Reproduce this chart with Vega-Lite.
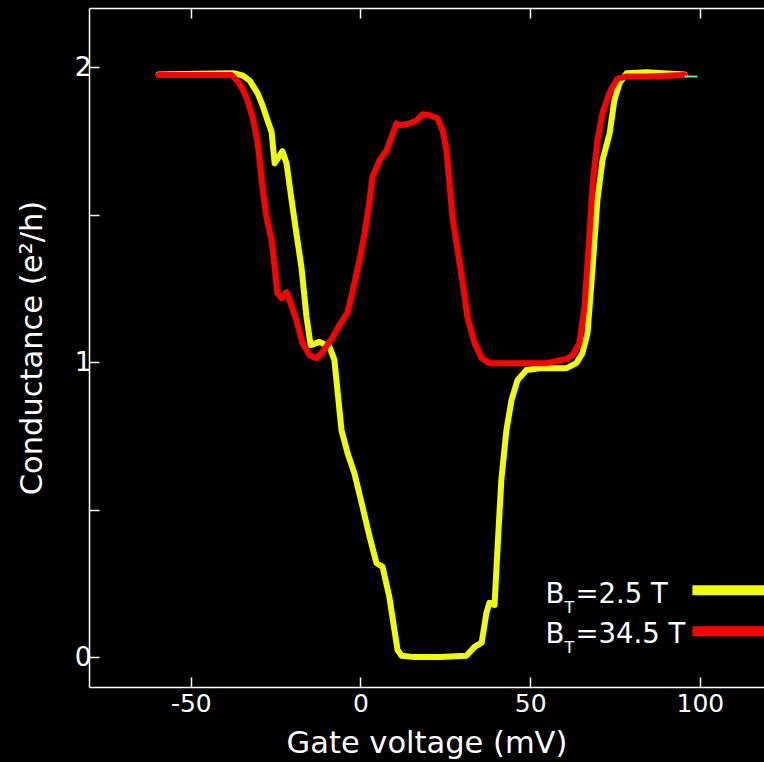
{
  "$schema": "https://vega.github.io/schema/vega-lite/v6.json",
  "width": 675,
  "height": 679,
  "autosize": "none",
  "padding": {"left": 89, "top": 8, "right": 0, "bottom": 75},
  "background": "black",
  "config": {"view": {"stroke": null}, "font": "DejaVu Sans", "text": {"font": "DejaVu Sans"}},
  "datasets": {
    "curves": [
      {"v": -59.5, "g": 1.975, "s": "2.5 T"},
      {"v": -48, "g": 1.977, "s": "2.5 T"},
      {"v": -37.4, "g": 1.979, "s": "2.5 T"},
      {"v": -34.8, "g": 1.972, "s": "2.5 T"},
      {"v": -32.7, "g": 1.955, "s": "2.5 T"},
      {"v": -30.3, "g": 1.911, "s": "2.5 T"},
      {"v": -28.9, "g": 1.871, "s": "2.5 T"},
      {"v": -27.4, "g": 1.82, "s": "2.5 T"},
      {"v": -26.2, "g": 1.78, "s": "2.5 T"},
      {"v": -25.3, "g": 1.674, "s": "2.5 T"},
      {"v": -23.0, "g": 1.715, "s": "2.5 T"},
      {"v": -21.8, "g": 1.674, "s": "2.5 T"},
      {"v": -20.3, "g": 1.549, "s": "2.5 T"},
      {"v": -18.9, "g": 1.437, "s": "2.5 T"},
      {"v": -17.4, "g": 1.322, "s": "2.5 T"},
      {"v": -15.9, "g": 1.153, "s": "2.5 T"},
      {"v": -14.7, "g": 1.058, "s": "2.5 T"},
      {"v": -12.1, "g": 1.069, "s": "2.5 T"},
      {"v": -9.1, "g": 1.052, "s": "2.5 T"},
      {"v": -7.7, "g": 1.008, "s": "2.5 T"},
      {"v": -7.1, "g": 0.94, "s": "2.5 T"},
      {"v": -5.6, "g": 0.77, "s": "2.5 T"},
      {"v": -3.8, "g": 0.692, "s": "2.5 T"},
      {"v": -1.8, "g": 0.624, "s": "2.5 T"},
      {"v": 0.6, "g": 0.51, "s": "2.5 T"},
      {"v": 2.7, "g": 0.408, "s": "2.5 T"},
      {"v": 4.7, "g": 0.32, "s": "2.5 T"},
      {"v": 6.5, "g": 0.307, "s": "2.5 T"},
      {"v": 8.5, "g": 0.205, "s": "2.5 T"},
      {"v": 10.0, "g": 0.093, "s": "2.5 T"},
      {"v": 10.9, "g": 0.026, "s": "2.5 T"},
      {"v": 12.1, "g": 0.006, "s": "2.5 T"},
      {"v": 15.3, "g": 0.002, "s": "2.5 T"},
      {"v": 23.3, "g": 0.002, "s": "2.5 T"},
      {"v": 31.2, "g": 0.006, "s": "2.5 T"},
      {"v": 33.6, "g": 0.036, "s": "2.5 T"},
      {"v": 35.7, "g": 0.05, "s": "2.5 T"},
      {"v": 37.1, "g": 0.151, "s": "2.5 T"},
      {"v": 38.0, "g": 0.185, "s": "2.5 T"},
      {"v": 39.5, "g": 0.178, "s": "2.5 T"},
      {"v": 40.4, "g": 0.375, "s": "2.5 T"},
      {"v": 41.5, "g": 0.601, "s": "2.5 T"},
      {"v": 43.0, "g": 0.77, "s": "2.5 T"},
      {"v": 44.5, "g": 0.872, "s": "2.5 T"},
      {"v": 46.3, "g": 0.94, "s": "2.5 T"},
      {"v": 48.9, "g": 0.974, "s": "2.5 T"},
      {"v": 52.7, "g": 0.98, "s": "2.5 T"},
      {"v": 60.7, "g": 0.98, "s": "2.5 T"},
      {"v": 63.6, "g": 0.997, "s": "2.5 T"},
      {"v": 65.4, "g": 1.031, "s": "2.5 T"},
      {"v": 66.9, "g": 1.099, "s": "2.5 T"},
      {"v": 68.4, "g": 1.322, "s": "2.5 T"},
      {"v": 69.8, "g": 1.549, "s": "2.5 T"},
      {"v": 71.3, "g": 1.684, "s": "2.5 T"},
      {"v": 73.4, "g": 1.775, "s": "2.5 T"},
      {"v": 74.8, "g": 1.887, "s": "2.5 T"},
      {"v": 76.3, "g": 1.945, "s": "2.5 T"},
      {"v": 78.4, "g": 1.979, "s": "2.5 T"},
      {"v": 84.3, "g": 1.982, "s": "2.5 T"},
      {"v": 95.5, "g": 1.975, "s": "2.5 T"},
      {"v": -59.5, "g": 1.973, "s": "34.5 T"},
      {"v": -48, "g": 1.973, "s": "34.5 T"},
      {"v": -38.0, "g": 1.973, "s": "34.5 T"},
      {"v": -35.7, "g": 1.945, "s": "34.5 T"},
      {"v": -33.6, "g": 1.897, "s": "34.5 T"},
      {"v": -31.8, "g": 1.83, "s": "34.5 T"},
      {"v": -30.3, "g": 1.742, "s": "34.5 T"},
      {"v": -28.9, "g": 1.593, "s": "34.5 T"},
      {"v": -27.7, "g": 1.491, "s": "34.5 T"},
      {"v": -26.2, "g": 1.414, "s": "34.5 T"},
      {"v": -25.3, "g": 1.322, "s": "34.5 T"},
      {"v": -24.5, "g": 1.234, "s": "34.5 T"},
      {"v": -23.3, "g": 1.217, "s": "34.5 T"},
      {"v": -21.8, "g": 1.237, "s": "34.5 T"},
      {"v": -20.9, "g": 1.21, "s": "34.5 T"},
      {"v": -18.9, "g": 1.143, "s": "34.5 T"},
      {"v": -17.1, "g": 1.065, "s": "34.5 T"},
      {"v": -15.0, "g": 1.024, "s": "34.5 T"},
      {"v": -13.0, "g": 1.014, "s": "34.5 T"},
      {"v": -11.2, "g": 1.034, "s": "34.5 T"},
      {"v": -8.2, "g": 1.085, "s": "34.5 T"},
      {"v": -6.2, "g": 1.126, "s": "34.5 T"},
      {"v": -3.8, "g": 1.17, "s": "34.5 T"},
      {"v": -1.8, "g": 1.268, "s": "34.5 T"},
      {"v": -0.3, "g": 1.346, "s": "34.5 T"},
      {"v": 1.2, "g": 1.437, "s": "34.5 T"},
      {"v": 2.7, "g": 1.549, "s": "34.5 T"},
      {"v": 3.5, "g": 1.627, "s": "34.5 T"},
      {"v": 5.6, "g": 1.684, "s": "34.5 T"},
      {"v": 7.7, "g": 1.718, "s": "34.5 T"},
      {"v": 9.1, "g": 1.762, "s": "34.5 T"},
      {"v": 10.6, "g": 1.809, "s": "34.5 T"},
      {"v": 11.5, "g": 1.803, "s": "34.5 T"},
      {"v": 14.4, "g": 1.809, "s": "34.5 T"},
      {"v": 16.5, "g": 1.819, "s": "34.5 T"},
      {"v": 18.3, "g": 1.84, "s": "34.5 T"},
      {"v": 20.3, "g": 1.837, "s": "34.5 T"},
      {"v": 22.7, "g": 1.826, "s": "34.5 T"},
      {"v": 24.2, "g": 1.786, "s": "34.5 T"},
      {"v": 25.3, "g": 1.718, "s": "34.5 T"},
      {"v": 26.2, "g": 1.607, "s": "34.5 T"},
      {"v": 27.1, "g": 1.491, "s": "34.5 T"},
      {"v": 28.6, "g": 1.38, "s": "34.5 T"},
      {"v": 30.1, "g": 1.268, "s": "34.5 T"},
      {"v": 31.5, "g": 1.153, "s": "34.5 T"},
      {"v": 33.6, "g": 1.065, "s": "34.5 T"},
      {"v": 35.7, "g": 1.014, "s": "34.5 T"},
      {"v": 38.0, "g": 0.997, "s": "34.5 T"},
      {"v": 44.8, "g": 0.997, "s": "34.5 T"},
      {"v": 54.8, "g": 0.997, "s": "34.5 T"},
      {"v": 60.7, "g": 1.011, "s": "34.5 T"},
      {"v": 62.5, "g": 1.024, "s": "34.5 T"},
      {"v": 64.5, "g": 1.065, "s": "34.5 T"},
      {"v": 66.0, "g": 1.187, "s": "34.5 T"},
      {"v": 67.5, "g": 1.437, "s": "34.5 T"},
      {"v": 68.4, "g": 1.606, "s": "34.5 T"},
      {"v": 69.8, "g": 1.752, "s": "34.5 T"},
      {"v": 71.3, "g": 1.843, "s": "34.5 T"},
      {"v": 73.4, "g": 1.914, "s": "34.5 T"},
      {"v": 75.7, "g": 1.961, "s": "34.5 T"},
      {"v": 78.4, "g": 1.968, "s": "34.5 T"},
      {"v": 84.3, "g": 1.968, "s": "34.5 T"},
      {"v": 95.5, "g": 1.973, "s": "34.5 T"}
    ],
    "tail": [
      {"v": 95.5, "g": 1.968},
      {"v": 99.3, "g": 1.968}
    ],
    "legend": [
      {"s": "2.5 T", "rest": "=2.5 T", "lx": 54.5, "ly": 0.186, "bx": 97.8, "ex": 118.9, "by": 0.228},
      {"s": "34.5 T", "rest": "=34.5 T", "lx": 54.5, "ly": 0.05, "bx": 97.8, "ex": 118.9, "by": 0.089}
    ]
  },
  "resolve": {"axis": {"x": "independent", "y": "independent"}},
  "layer": [
    {
      "data": {"name": "curves"},
      "mark": {"type": "line", "strokeWidth": 6, "strokeJoin": "round", "strokeCap": "round"},
      "encoding": {
        "x": {
          "field": "v", "type": "quantitative",
          "scale": {"domain": [-80, 118.9], "nice": false, "zero": false},
          "axis": {
            "orient": "bottom", "values": [-50, 0, 50, 100], "grid": false,
            "labelExpr": "datum.value < 0 ? '-' + abs(datum.value) : '' + datum.value",
            "domainColor": "white", "domainWidth": 1.5, "tickColor": "white", "tickWidth": 1.5, "tickSize": -10,
            "labelColor": "white", "labelFontSize": 25, "labelFont": "DejaVu Sans", "labelPadding": 14, "labelFlush": false,
            "title": "Gate voltage (mV)", "titleColor": "white", "titleFontSize": 30.5, "titleFontWeight": "normal", "titleFont": "DejaVu Sans",
            "titleBaseline": "alphabetic", "titleY": 65
          }
        },
        "y": {
          "field": "g", "type": "quantitative",
          "scale": {"domain": [-0.1, 2.2], "nice": false, "zero": false},
          "axis": {
            "orient": "left", "values": [0, 0.5, 1, 1.5, 2], "grid": false,
            "labelExpr": "datum.value % 1 === 0 ? '' + datum.value : ''",
            "domainColor": "white", "domainWidth": 1.5, "tickColor": "white", "tickWidth": 1.5, "tickSize": -10,
            "labelColor": "white", "labelFontSize": 26.5, "labelFont": "DejaVu Sans", "labelPadding": 8, "labelFlush": false,
            "title": "Conductance (e²/h)", "titleColor": "white", "titleFontSize": 30.5, "titleFontWeight": "normal", "titleFont": "DejaVu Sans",
            "titleBaseline": "alphabetic", "titleX": -47.5
          }
        },
        "color": {
          "field": "s", "type": "nominal",
          "scale": {"domain": ["2.5 T", "34.5 T"], "range": ["#eeff00", "#ff0000"]},
          "legend": null
        }
      }
    },
    {
      "data": {"name": "tail"},
      "mark": {"type": "line", "strokeWidth": 2, "color": "#5ee6c8"},
      "encoding": {
        "x": {
          "field": "v", "type": "quantitative",
          "scale": {"domain": [-80, 118.9], "nice": false, "zero": false},
          "axis": {
            "orient": "top", "values": [-50, 0, 50, 100], "grid": false, "labels": false, "title": null,
            "domainColor": "white", "domainWidth": 1.5, "tickColor": "white", "tickWidth": 1.5, "tickSize": -10
          }
        },
        "y": {"field": "g", "type": "quantitative", "scale": {"domain": [-0.1, 2.2], "nice": false, "zero": false}, "axis": null}
      }
    },
    {
      "data": {"name": "legend"},
      "mark": {"type": "rule", "strokeWidth": 10, "strokeCap": "butt"},
      "encoding": {
        "x": {"field": "bx", "type": "quantitative", "scale": {"domain": [-80, 118.9], "nice": false, "zero": false}, "axis": null},
        "x2": {"field": "ex"},
        "y": {"field": "by", "type": "quantitative", "scale": {"domain": [-0.1, 2.2], "nice": false, "zero": false}, "axis": null},
        "color": {"field": "s", "type": "nominal", "scale": {"domain": ["2.5 T", "34.5 T"], "range": ["#eeff00", "#ff0000"]}, "legend": null}
      }
    },
    {
      "data": {"name": "legend"},
      "mark": {"type": "text", "text": "B", "fontSize": 27.5, "align": "left", "baseline": "alphabetic", "color": "white", "font": "DejaVu Sans"},
      "encoding": {
        "x": {"field": "lx", "type": "quantitative", "scale": {"domain": [-80, 118.9], "nice": false, "zero": false}, "axis": null},
        "y": {"field": "ly", "type": "quantitative", "scale": {"domain": [-0.1, 2.2], "nice": false, "zero": false}, "axis": null}
      }
    },
    {
      "data": {"name": "legend"},
      "mark": {"type": "text", "text": "T", "fontSize": 16, "align": "left", "baseline": "alphabetic", "color": "white", "dx": 19, "dy": 10, "font": "DejaVu Sans"},
      "encoding": {
        "x": {"field": "lx", "type": "quantitative", "scale": {"domain": [-80, 118.9], "nice": false, "zero": false}, "axis": null},
        "y": {"field": "ly", "type": "quantitative", "scale": {"domain": [-0.1, 2.2], "nice": false, "zero": false}, "axis": null}
      }
    },
    {
      "data": {"name": "legend"},
      "mark": {"type": "text", "fontSize": 27.5, "align": "left", "baseline": "alphabetic", "color": "white", "dx": 30, "font": "DejaVu Sans"},
      "encoding": {
        "x": {"field": "lx", "type": "quantitative", "scale": {"domain": [-80, 118.9], "nice": false, "zero": false}, "axis": null},
        "y": {"field": "ly", "type": "quantitative", "scale": {"domain": [-0.1, 2.2], "nice": false, "zero": false}, "axis": null},
        "text": {"field": "rest", "type": "nominal"}
      }
    }
  ]
}
